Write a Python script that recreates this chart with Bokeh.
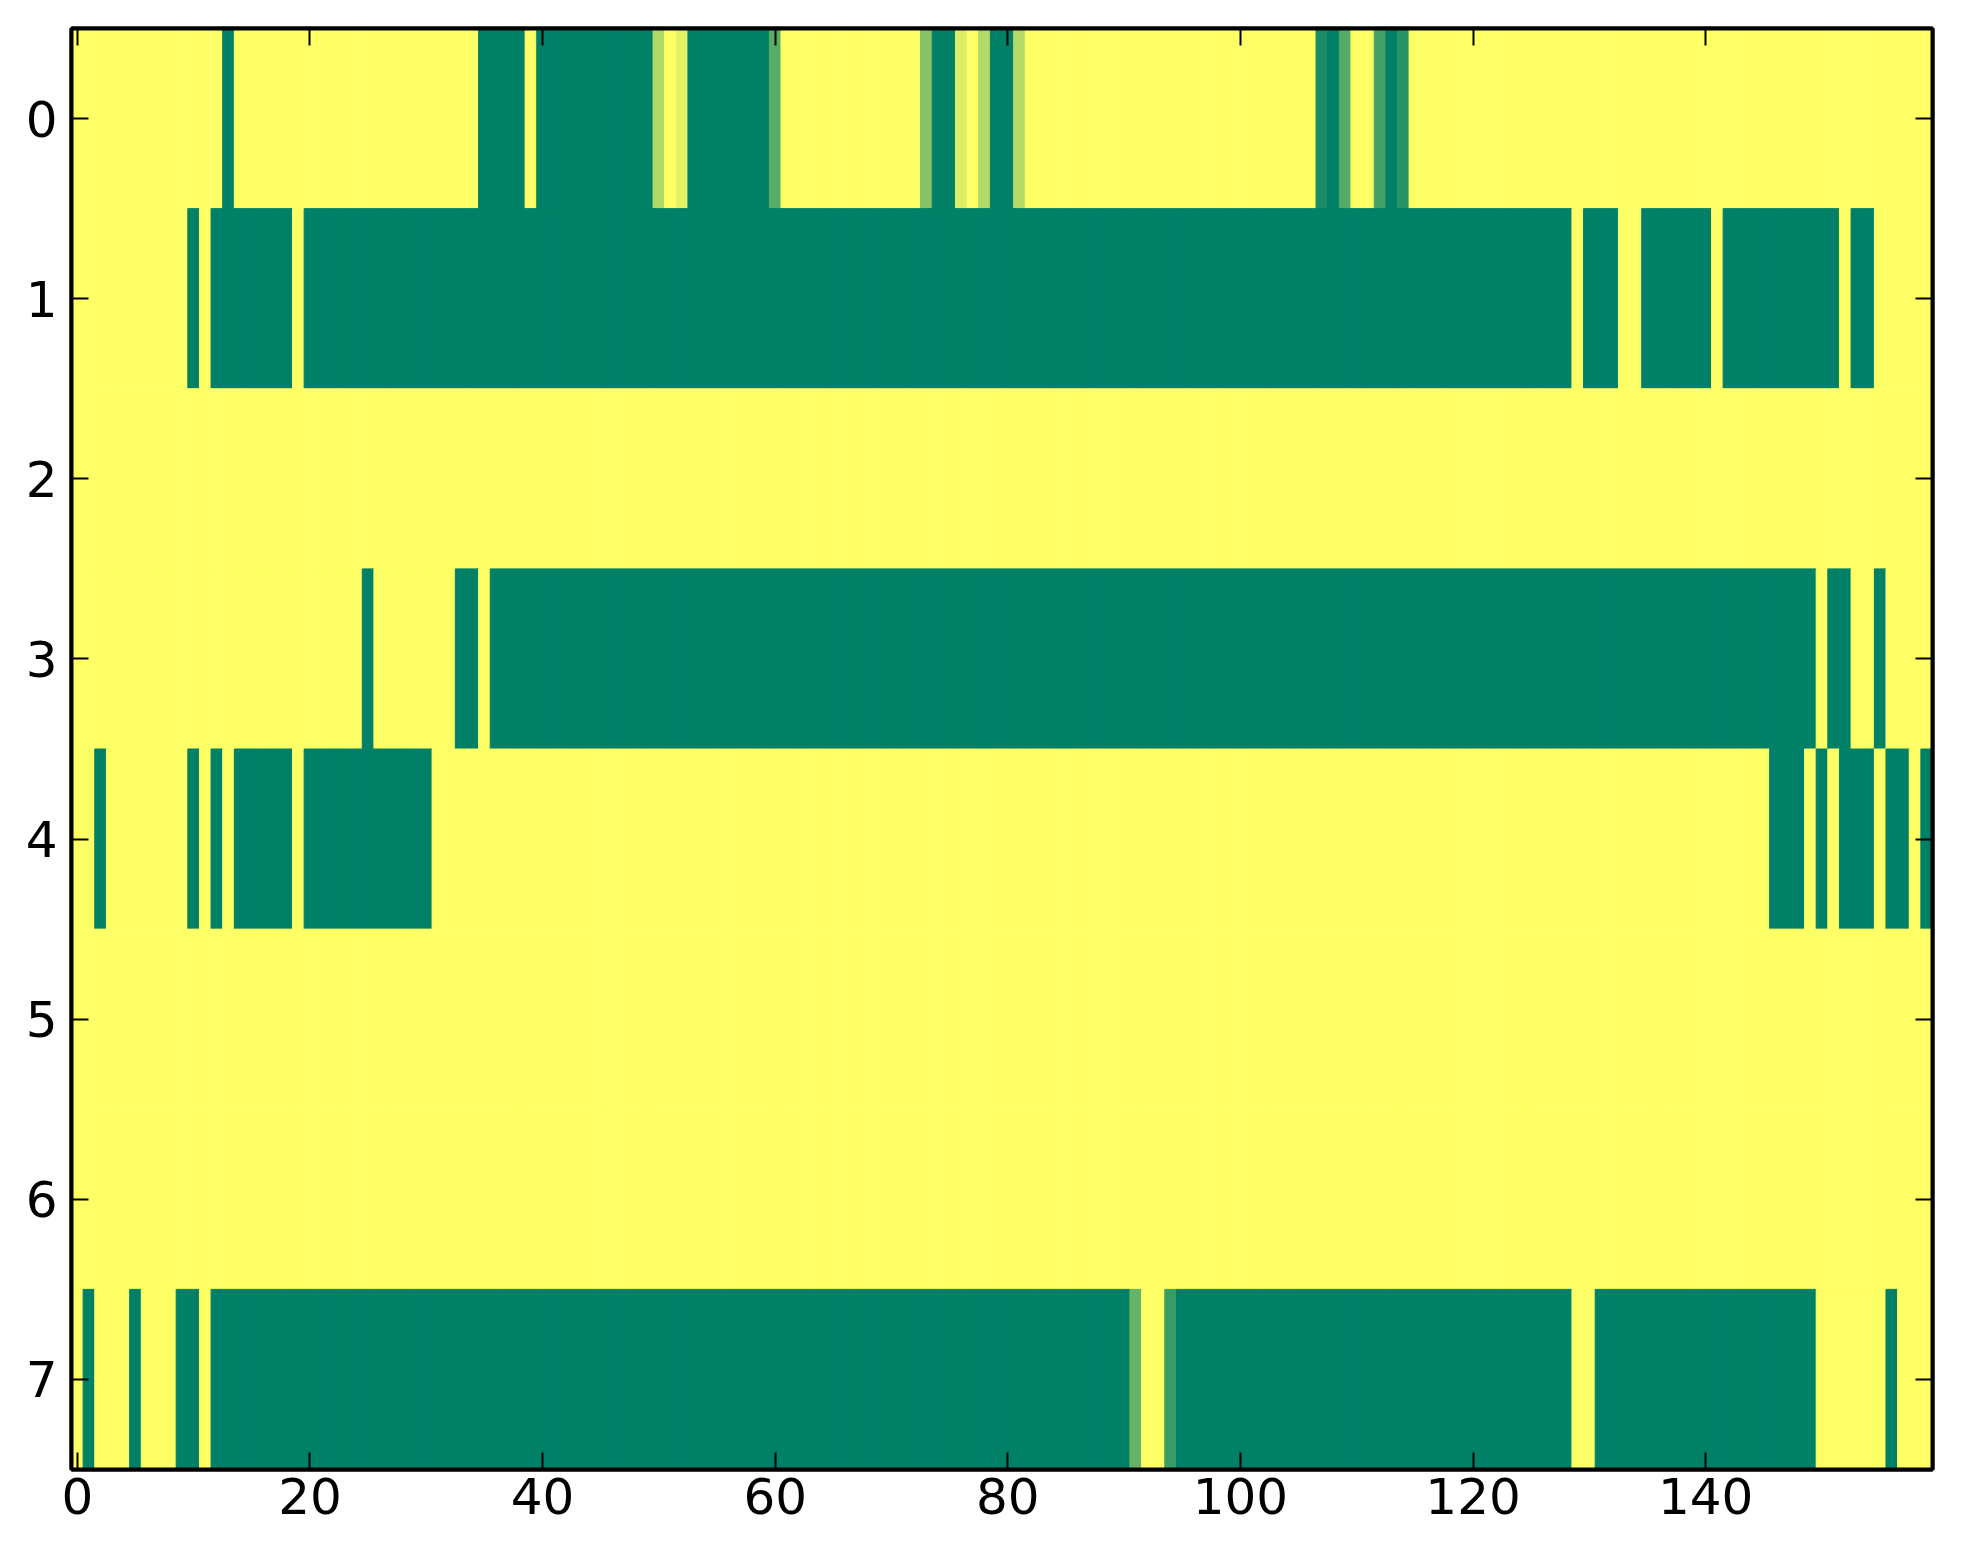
from bokeh.plotting import figure
from bokeh.models import ColumnDataSource, Range1d, LinearAxis, FixedTicker
from bokeh.transform import linear_cmap
from bokeh.embed import file_html
from bokeh.resources import INLINE

# ---- data: 8 rows x 160 columns (value 0 = green, 1 = yellow) ----
row0 = [
    1, 1, 1, 1, 1, 1, 1, 1, 1, 1, 1, 1, 1, 0, 1, 1, 1, 1, 1, 1,
    1, 1, 1, 1, 1, 1, 1, 1, 1, 1, 1, 1, 1, 1, 1, 0, 0, 0, 0, 1,
    0, 0, 0, 0, 0, 0, 0, 0, 0, 0, 0.69, 1, 0.9, 0, 0, 0, 0, 0, 0, 0,
    0.35, 1, 1, 1, 1, 1, 1, 1, 1, 1, 1, 1, 1, 0.53, 0, 0, 0.86, 1, 0.7, 0,
    0, 0.7, 1, 1, 1, 1, 1, 1, 1, 1, 1, 1, 1, 1, 1, 1, 1, 1, 1, 1,
    1, 1, 1, 1, 1, 1, 1, 0.1, 0, 0.33, 1, 1, 0.27, 0, 0.16, 1, 1, 1, 1, 1,
    1, 1, 1, 1, 1, 1, 1, 1, 1, 1, 1, 1, 1, 1, 1, 1, 1, 1, 1, 1,
    1, 1, 1, 1, 1, 1, 1, 1, 1, 1, 1, 1, 1, 1, 1, 1, 1, 1, 1, 1,
]
row1 = [
    1, 1, 1, 1, 1, 1, 1, 1, 1, 1, 0, 1, 0, 0, 0, 0, 0, 0, 0, 1,
    0, 0, 0, 0, 0, 0, 0, 0, 0, 0, 0, 0, 0, 0, 0, 0, 0, 0, 0, 0,
    0, 0, 0, 0, 0, 0, 0, 0, 0, 0, 0, 0, 0, 0, 0, 0, 0, 0, 0, 0,
    0, 0, 0, 0, 0, 0, 0, 0, 0, 0, 0, 0, 0, 0, 0, 0, 0, 0, 0, 0,
    0, 0, 0, 0, 0, 0, 0, 0, 0, 0, 0, 0, 0, 0, 0, 0, 0, 0, 0, 0,
    0, 0, 0, 0, 0, 0, 0, 0, 0, 0, 0, 0, 0, 0, 0, 0, 0, 0, 0, 0,
    0, 0, 0, 0, 0, 0, 0, 0, 0, 1, 0, 0, 0, 1, 1, 0, 0, 0, 0, 0,
    0, 1, 0, 0, 0, 0, 0, 0, 0, 0, 0, 0, 1, 0, 0, 1, 1, 1, 1, 1,
]
row2 = [
    1, 1, 1, 1, 1, 1, 1, 1, 1, 1, 1, 1, 1, 1, 1, 1, 1, 1, 1, 1,
    1, 1, 1, 1, 1, 1, 1, 1, 1, 1, 1, 1, 1, 1, 1, 1, 1, 1, 1, 1,
    1, 1, 1, 1, 1, 1, 1, 1, 1, 1, 1, 1, 1, 1, 1, 1, 1, 1, 1, 1,
    1, 1, 1, 1, 1, 1, 1, 1, 1, 1, 1, 1, 1, 1, 1, 1, 1, 1, 1, 1,
    1, 1, 1, 1, 1, 1, 1, 1, 1, 1, 1, 1, 1, 1, 1, 1, 1, 1, 1, 1,
    1, 1, 1, 1, 1, 1, 1, 1, 1, 1, 1, 1, 1, 1, 1, 1, 1, 1, 1, 1,
    1, 1, 1, 1, 1, 1, 1, 1, 1, 1, 1, 1, 1, 1, 1, 1, 1, 1, 1, 1,
    1, 1, 1, 1, 1, 1, 1, 1, 1, 1, 1, 1, 1, 1, 1, 1, 1, 1, 1, 1,
]
row3 = [
    1, 1, 1, 1, 1, 1, 1, 1, 1, 1, 1, 1, 1, 1, 1, 1, 1, 1, 1, 1,
    1, 1, 1, 1, 1, 0, 1, 1, 1, 1, 1, 1, 1, 0, 0, 1, 0, 0, 0, 0,
    0, 0, 0, 0, 0, 0, 0, 0, 0, 0, 0, 0, 0, 0, 0, 0, 0, 0, 0, 0,
    0, 0, 0, 0, 0, 0, 0, 0, 0, 0, 0, 0, 0, 0, 0, 0, 0, 0, 0, 0,
    0, 0, 0, 0, 0, 0, 0, 0, 0, 0, 0, 0, 0, 0, 0, 0, 0, 0, 0, 0,
    0, 0, 0, 0, 0, 0, 0, 0, 0, 0, 0, 0, 0, 0, 0, 0, 0, 0, 0, 0,
    0, 0, 0, 0, 0, 0, 0, 0, 0, 0, 0, 0, 0, 0, 0, 0, 0, 0, 0, 0,
    0, 0, 0, 0, 0, 0, 0, 0, 0, 0, 1, 0, 0, 1, 1, 0, 1, 1, 1, 1,
]
row4 = [
    1, 1, 0, 1, 1, 1, 1, 1, 1, 1, 0, 1, 0, 1, 0, 0, 0, 0, 0, 1,
    0, 0, 0, 0, 0, 0, 0, 0, 0, 0, 0, 1, 1, 1, 1, 1, 1, 1, 1, 1,
    1, 1, 1, 1, 1, 1, 1, 1, 1, 1, 1, 1, 1, 1, 1, 1, 1, 1, 1, 1,
    1, 1, 1, 1, 1, 1, 1, 1, 1, 1, 1, 1, 1, 1, 1, 1, 1, 1, 1, 1,
    1, 1, 1, 1, 1, 1, 1, 1, 1, 1, 1, 1, 1, 1, 1, 1, 1, 1, 1, 1,
    1, 1, 1, 1, 1, 1, 1, 1, 1, 1, 1, 1, 1, 1, 1, 1, 1, 1, 1, 1,
    1, 1, 1, 1, 1, 1, 1, 1, 1, 1, 1, 1, 1, 1, 1, 1, 1, 1, 1, 1,
    1, 1, 1, 1, 1, 1, 0, 0, 0, 1, 0, 1, 0, 0, 0, 1, 0, 0, 1, 0,
]
row5 = [
    1, 1, 1, 1, 1, 1, 1, 1, 1, 1, 1, 1, 1, 1, 1, 1, 1, 1, 1, 1,
    1, 1, 1, 1, 1, 1, 1, 1, 1, 1, 1, 1, 1, 1, 1, 1, 1, 1, 1, 1,
    1, 1, 1, 1, 1, 1, 1, 1, 1, 1, 1, 1, 1, 1, 1, 1, 1, 1, 1, 1,
    1, 1, 1, 1, 1, 1, 1, 1, 1, 1, 1, 1, 1, 1, 1, 1, 1, 1, 1, 1,
    1, 1, 1, 1, 1, 1, 1, 1, 1, 1, 1, 1, 1, 1, 1, 1, 1, 1, 1, 1,
    1, 1, 1, 1, 1, 1, 1, 1, 1, 1, 1, 1, 1, 1, 1, 1, 1, 1, 1, 1,
    1, 1, 1, 1, 1, 1, 1, 1, 1, 1, 1, 1, 1, 1, 1, 1, 1, 1, 1, 1,
    1, 1, 1, 1, 1, 1, 1, 1, 1, 1, 1, 1, 1, 1, 1, 1, 1, 1, 1, 1,
]
row6 = [
    1, 1, 1, 1, 1, 1, 1, 1, 1, 1, 1, 1, 1, 1, 1, 1, 1, 1, 1, 1,
    1, 1, 1, 1, 1, 1, 1, 1, 1, 1, 1, 1, 1, 1, 1, 1, 1, 1, 1, 1,
    1, 1, 1, 1, 1, 1, 1, 1, 1, 1, 1, 1, 1, 1, 1, 1, 1, 1, 1, 1,
    1, 1, 1, 1, 1, 1, 1, 1, 1, 1, 1, 1, 1, 1, 1, 1, 1, 1, 1, 1,
    1, 1, 1, 1, 1, 1, 1, 1, 1, 1, 1, 1, 1, 1, 1, 1, 1, 1, 1, 1,
    1, 1, 1, 1, 1, 1, 1, 1, 1, 1, 1, 1, 1, 1, 1, 1, 1, 1, 1, 1,
    1, 1, 1, 1, 1, 1, 1, 1, 1, 1, 1, 1, 1, 1, 1, 1, 1, 1, 1, 1,
    1, 1, 1, 1, 1, 1, 1, 1, 1, 1, 1, 1, 1, 1, 1, 1, 1, 1, 1, 1,
]
row7 = [
    1, 0, 1, 1, 1, 0, 1, 1, 1, 0, 0, 1, 0, 0, 0, 0, 0, 0, 0, 0,
    0, 0, 0, 0, 0, 0, 0, 0, 0, 0, 0, 0, 0, 0, 0, 0, 0, 0, 0, 0,
    0, 0, 0, 0, 0, 0, 0, 0, 0, 0, 0, 0, 0, 0, 0, 0, 0, 0, 0, 0,
    0, 0, 0, 0, 0, 0, 0, 0, 0, 0, 0, 0, 0, 0, 0, 0, 0, 0, 0, 0,
    0, 0, 0, 0, 0, 0, 0, 0, 0, 0, 0, 0.4, 1, 1, 0.23, 0, 0, 0, 0, 0,
    0, 0, 0, 0, 0, 0, 0, 0, 0, 0, 0, 0, 0, 0, 0, 0, 0, 0, 0, 0,
    0, 0, 0, 0, 0, 0, 0, 0, 0, 1, 1, 0, 0, 0, 0, 0, 0, 0, 0, 0,
    0, 0, 0, 0, 0, 0, 0, 0, 0, 0, 1, 1, 1, 1, 1, 1, 0, 1, 1, 1,
]
rows = [row0, row1, row2, row3, row4, row5, row6, row7]
for r in rows:
    assert len(r) == 160, len(r)

x_ticks = [0, 20, 40, 60, 80, 100, 120, 140]
y_ticks = [0, 1, 2, 3, 4, 5, 6, 7]

# matplotlib "summer" colormap, 256 steps
palette = []
for i in range(256):
    t = i / 255.0
    palette.append("#%02x%02x%02x" % (int(round(255 * t)), int(round(255 * (0.5 + 0.5 * t))), 102))

xs, ys, vs = [], [], []
for yi, r in enumerate(rows):
    for xi, v in enumerate(r):
        xs.append(xi)
        ys.append(yi)
        vs.append(v)
src = ColumnDataSource(dict(x=xs, y=ys, v=vs))

p = figure(width=1950, height=1548,
           x_range=Range1d(-0.5, 159.5), y_range=Range1d(7.5, -0.5),
           output_backend="svg", toolbar_location=None,
           min_border_left=71, min_border_right=18,
           min_border_top=28, min_border_bottom=79,
           background_fill_color="white", border_fill_color="white")

cmap = linear_cmap("v", palette, 0, 1)
p.rect(x="x", y="y", width=1, height=1, source=src,
       fill_color=cmap, line_color=cmap, line_width=1)

p.grid.visible = False
p.outline_line_color = "black"
p.outline_line_width = 4
p.outline_line_alpha = 1.0

FONT = "DejaVu Sans"
FS = "50px"

def style(ax, ticks, show_labels, standoff):
    ax.ticker = FixedTicker(ticks=ticks, minor_ticks=[])
    ax.major_tick_in = 17
    ax.major_tick_out = 0
    ax.minor_tick_in = 0
    ax.minor_tick_out = 0
    ax.major_tick_line_width = 2
    ax.major_tick_line_color = "black"
    ax.axis_line_color = "black"
    ax.axis_line_width = 4
    ax.major_label_text_font = FONT
    ax.major_label_text_color = "black"
    ax.major_label_standoff = standoff
    if show_labels:
        ax.major_label_text_font_size = FS
    else:
        ax.major_label_overrides = {t: "" for t in ticks}
        ax.major_label_text_font_size = "1px"
        ax.major_label_standoff = 0

style(p.xaxis[0], x_ticks, True, 8)
style(p.yaxis[0], y_ticks, True, 14)

top = LinearAxis()
style(top, x_ticks, False, 0)
p.add_layout(top, "above")
right = LinearAxis()
style(right, y_ticks, False, 0)
p.add_layout(right, "right")

open("out.html", "w").write(file_html(p, INLINE))
